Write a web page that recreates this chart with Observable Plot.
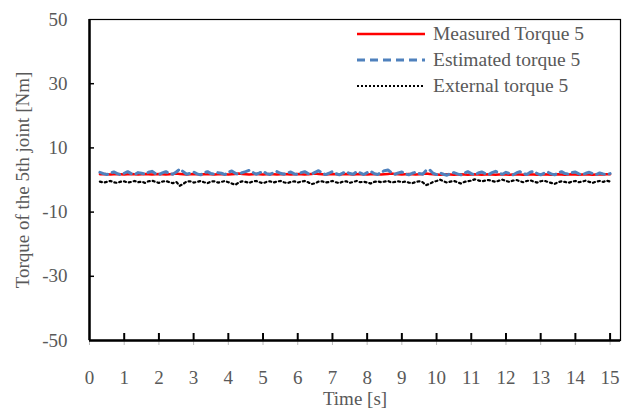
<!DOCTYPE html>
<html>
<head>
<meta charset="utf-8">
<script src="https://cdn.jsdelivr.net/npm/d3@7"></script>
<script src="https://cdn.jsdelivr.net/npm/@observablehq/plot@0.6"></script>
<style>
  html, body { margin: 0; padding: 0; background: #fff; }
  #wrap { position: relative; width: 631px; height: 414px; }
  #legend { position: absolute; left: 356px; top: 21px; font-family: "Liberation Serif", serif; font-size: 19.5px; color: #595959; }
  #legend .row { display: flex; align-items: center; height: 26px; }
  #legend svg { margin-right: 7px; }
</style>
</head>
<body>
<div id="wrap"></div>
<script>
const t0 = 0.3, dt = 0.1;
const measured = [
  1.8,1.9,1.8,1.7,1.8,1.9,1.8,
  1.7,1.8,1.9,1.8,1.7,1.8,1.9,1.8,1.7,1.8,
  1.9,1.8,1.7,1.8,1.9,2.0,1.9,1.8,1.7,1.8,
  1.9,1.8,1.7,1.8,1.9,1.8,1.7,1.8,1.9,1.8,
  1.7,1.8,1.9,2.0,1.9,1.8,1.7,1.8,1.9,1.8,
  1.7,1.8,1.9,1.8,1.7,1.8,1.9,1.8,1.7,1.8,
  1.9,1.8,1.7,1.8,1.9,2.0,1.9,1.8,1.7,1.8,
  1.9,1.8,1.7,1.8,1.9,1.8,1.7,1.8,1.9,1.8,
  1.7,1.8,1.9,1.8,1.7,1.8,1.9,2.0,1.9,1.8,
  1.7,1.8,1.9,1.8,1.7,1.8,1.9,2.0,1.9,1.8,
  1.7,1.6,1.7,1.8,1.7,1.6,1.7,1.8,1.7,1.6,
  1.7,1.8,1.7,1.6,1.7,1.8,1.7,1.6,1.7,1.8,
  1.7,1.6,1.7,1.8,1.7,1.6,1.7,1.8,1.7,1.6,
  1.7,1.8,1.7,1.6,1.7,1.8,1.7,1.6,1.7,1.8,
  1.7,1.6,1.7,1.8,1.7,1.6,1.7,1.8,1.7,1.8,
  1.8
];
const estimated = [
  2.4,2.0,1.7,2.2,2.5,2.0,1.6,
  2.1,2.6,2.0,1.7,2.3,2.1,1.8,2.4,2.7,2.0,
  1.7,2.2,2.6,2.0,1.8,2.5,3.4,2.6,1.8,2.1,
  2.5,1.9,1.6,2.2,2.6,2.0,1.8,2.3,2.1,1.7,
  2.4,2.8,2.1,1.7,2.3,2.6,3.0,2.4,1.8,2.2,
  2.7,2.0,1.7,2.3,2.6,2.1,1.8,2.2,2.5,1.9,
  1.7,2.3,2.6,2.0,1.8,2.4,2.9,2.2,1.7,2.1,
  2.6,2.0,1.6,2.2,2.5,2.0,1.8,2.6,2.2,1.7,
  2.3,2.7,2.0,1.7,2.4,2.9,3.1,2.3,1.8,2.2,
  2.5,1.9,1.6,2.1,2.4,2.0,1.8,3.0,3.2,2.1,
  1.7,2.2,1.8,1.5,2.0,2.3,1.9,1.6,2.1,2.6,
  2.0,1.6,2.2,2.5,2.0,1.7,2.3,2.7,2.1,1.8,
  2.4,2.0,1.6,2.2,2.6,2.0,1.7,2.4,2.7,2.0,
  1.6,2.1,2.5,1.9,1.6,2.2,2.6,2.0,1.8,2.3,
  2.5,1.9,1.6,2.1,2.4,2.0,1.7,2.2,1.9,1.7,
  2.0
];
const external = [
  -0.5,-0.8,-0.6,-0.3,-0.7,-0.9,-0.5,
  -0.4,-0.8,-0.6,-0.3,-0.7,-0.5,-0.9,-0.4,-0.2,-0.6,
  -0.9,-0.5,-0.3,-0.7,-1.0,-0.6,-1.8,-1.2,-0.5,-0.4,
  -0.8,-0.6,-0.3,-0.7,-1.0,-0.5,-0.4,-0.8,-0.6,-0.3,
  -0.7,-1.1,-1.5,-0.8,-0.4,-0.6,-0.9,-0.5,-0.3,-0.7,
  -1.0,-0.6,-0.4,-0.8,-0.5,-0.3,-0.7,-1.0,-0.6,-0.4,
  -0.8,-0.5,-0.3,-0.7,-1.3,-1.0,-0.5,-0.4,-0.8,-0.6,
  -0.3,-0.7,-1.0,-0.5,-0.4,-0.9,-0.6,-0.3,-0.7,-0.5,
  -0.8,-1.1,-0.6,-0.4,-0.7,-0.5,-0.3,-0.8,-0.6,-0.4,
  -0.7,-0.5,-0.8,-1.0,-0.6,-0.4,-0.7,-1.6,-1.2,-0.6,
  -0.3,0.1,-0.4,-0.8,-0.5,-0.3,-0.7,-1.1,-0.6,-0.4,
  -0.2,0.2,-0.1,-0.4,-0.2,0.0,-0.3,-0.6,-0.2,0.1,
  -0.3,-0.6,-0.2,0.0,-0.4,-0.7,-0.3,-0.1,-0.5,-0.8,
  -0.4,-0.2,-0.6,-0.9,-1.2,-0.7,-0.4,-0.6,-0.9,-0.5,
  -0.3,-0.7,-0.5,-0.2,-0.6,-0.9,-0.5,-0.3,-0.6,-0.2,
  -0.5
];
const xTicks = [0,1,2,3,4,5,6,7,8,9,10,11,12,13,14,15];
const yTicks = [-50,-30,-10,10,30,50];
const seriesNames = ["Measured Torque 5", "Estimated torque 5", "External torque 5"];
const seriesColors = ["#ff0000", "#4f81bd", "#000000"];

const rows = (vals) => vals.map((v, i) => ({t: +(t0 + i * dt).toFixed(2), v}));
const dMeas = rows(measured), dEst = rows(estimated), dExt = rows(external);

const font = "Liberation Serif, serif";
const chart = Plot.plot({
  width: 631,
  height: 414,
  marginLeft: 89,
  marginRight: 11,
  marginTop: 19,
  marginBottom: 74,
  style: {fontFamily: font, fontSize: "19px", color: "#595959", background: "#fff"},
  x: {domain: [0, 15.3]},
  y: {domain: [-50, 50]},
  marks: [
    Plot.frame({stroke: "#000", strokeWidth: 1.2}),
    Plot.axisX({ticks: xTicks, tickSize: 5, stroke: "#bbb", tickPadding: 25, tickFormat: d => String(d), label: "Time [s]", labelAnchor: "center", labelArrow: "none", labelOffset: 64, fill: "#595959"}),
    Plot.axisX({ticks: xTicks.filter(d => d > 0), tickSize: -7, text: null, label: null, stroke: "#000", strokeWidth: 2}),
    Plot.axisY({ticks: yTicks, tickSize: 0, tickPadding: 22, tickFormat: d => String(d), label: "Torque of the 5th joint [Nm]", labelAnchor: "center", labelArrow: "none", labelOffset: 74, fill: "#595959"}),
    Plot.axisY({ticks: yTicks.filter(d => d > -50 && d < 50), tickSize: -5, text: null, label: null, stroke: "#000", strokeWidth: 1.5}),
    Plot.ruleX([0], {stroke: "#000", strokeWidth: 2.5}),
    Plot.ruleY([-50], {stroke: "#000", strokeWidth: 2.5}),
    Plot.line(dMeas, {x: "t", y: "v", stroke: seriesColors[0], strokeWidth: 2.5}),
    Plot.line(dEst, {x: "t", y: "v", stroke: seriesColors[1], strokeWidth: 3, strokeDasharray: "8,5"}),
    Plot.line(dExt, {x: "t", y: "v", stroke: seriesColors[2], strokeWidth: 2.2, strokeDasharray: "2,3"})
  ]
});
const wrap = document.getElementById("wrap");
wrap.appendChild(chart);

const legend = document.createElement("div");
legend.id = "legend";
const dashes = [null, "8,5", "2,2"];
const widths = [2.5, 3, 2];
seriesNames.forEach((name, i) => {
  const row = document.createElement("div");
  row.className = "row";
  row.innerHTML = `<svg width="70" height="10"><line x1="1" x2="69" y1="5" y2="5" stroke="${seriesColors[i]}" stroke-width="${widths[i]}" ${dashes[i] ? `stroke-dasharray="${dashes[i]}"` : ""}/></svg><span>${name}</span>`;
  legend.appendChild(row);
});
wrap.appendChild(legend);
</script>
</body>
</html>
